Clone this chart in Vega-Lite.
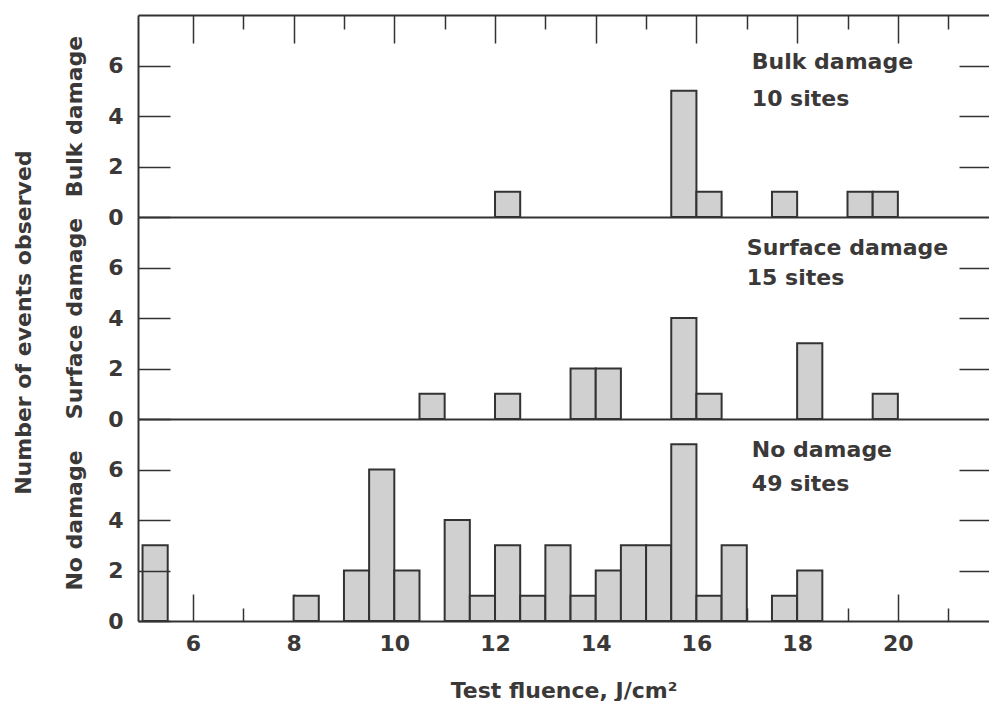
{
  "$schema": "https://vega.github.io/schema/vega-lite/v6.json",
  "padding": {"left": 12, "top": 14, "right": 0, "bottom": 0},
  "background": "white",
  "data": {"values": [
    {"panel": "Bulk", "lo": 12, "hi": 12.5, "count": 1},
    {"panel": "Bulk", "lo": 15.5, "hi": 16, "count": 5},
    {"panel": "Bulk", "lo": 16, "hi": 16.5, "count": 1},
    {"panel": "Bulk", "lo": 17.5, "hi": 18, "count": 1},
    {"panel": "Bulk", "lo": 19, "hi": 19.5, "count": 1},
    {"panel": "Bulk", "lo": 19.5, "hi": 20, "count": 1},
    {"panel": "Surface", "lo": 10.5, "hi": 11, "count": 1},
    {"panel": "Surface", "lo": 12, "hi": 12.5, "count": 1},
    {"panel": "Surface", "lo": 13.5, "hi": 14, "count": 2},
    {"panel": "Surface", "lo": 14, "hi": 14.5, "count": 2},
    {"panel": "Surface", "lo": 15.5, "hi": 16, "count": 4},
    {"panel": "Surface", "lo": 16, "hi": 16.5, "count": 1},
    {"panel": "Surface", "lo": 18, "hi": 18.5, "count": 3},
    {"panel": "Surface", "lo": 19.5, "hi": 20, "count": 1},
    {"panel": "None", "lo": 5, "hi": 5.5, "count": 3},
    {"panel": "None", "lo": 8, "hi": 8.5, "count": 1},
    {"panel": "None", "lo": 9, "hi": 9.5, "count": 2},
    {"panel": "None", "lo": 9.5, "hi": 10, "count": 6},
    {"panel": "None", "lo": 10, "hi": 10.5, "count": 2},
    {"panel": "None", "lo": 11, "hi": 11.5, "count": 4},
    {"panel": "None", "lo": 11.5, "hi": 12, "count": 1},
    {"panel": "None", "lo": 12, "hi": 12.5, "count": 3},
    {"panel": "None", "lo": 12.5, "hi": 13, "count": 1},
    {"panel": "None", "lo": 13, "hi": 13.5, "count": 3},
    {"panel": "None", "lo": 13.5, "hi": 14, "count": 1},
    {"panel": "None", "lo": 14, "hi": 14.5, "count": 2},
    {"panel": "None", "lo": 14.5, "hi": 15, "count": 3},
    {"panel": "None", "lo": 15, "hi": 15.5, "count": 3},
    {"panel": "None", "lo": 15.5, "hi": 16, "count": 7},
    {"panel": "None", "lo": 16, "hi": 16.5, "count": 1},
    {"panel": "None", "lo": 16.5, "hi": 17, "count": 3},
    {"panel": "None", "lo": 17.5, "hi": 18, "count": 1},
    {"panel": "None", "lo": 18, "hi": 18.5, "count": 2}
  ]},
  "title": {"text": "Number of events observed", "orient": "left", "anchor": "middle", "font": "DejaVu Sans", "fontSize": 22, "fontWeight": "bold", "color": "#3b3838", "offset": 28, "dx": 35},
  "spacing": 0,
  "bounds": "flush",
  "vconcat": [
    {
      "width": 851, "height": 202,
      "layer": [
        {
          "transform": [{"filter": "datum.panel === 'Bulk'"}],
          "mark": {"type": "bar", "fill": "#d0d0d0", "stroke": "#333333", "strokeWidth": 2},
          "encoding": {
            "x": {"field": "lo", "type": "quantitative", "scale": {"domain": [4.91, 21.81], "nice": false, "zero": false},
                  "axis": {"orient": "bottom", "ticks": false, "labels": false, "domain": true, "title": null}},
            "x2": {"field": "hi"},
            "y": {"field": "count", "type": "quantitative", "scale": {"domain": [0, 8], "nice": false},
                  "axis": {"orient": "left", "values": [0, 2, 4, 6], "tickSize": -32, "labelPadding": 47, "title": "Bulk damage", "titlePadding": 21, "zindex": 1}},
            "y2": {"datum": 0}
          }
        },
        {
          "data": {"values": [{}]},
          "mark": {"type": "text", "align": "left", "baseline": "middle", "font": "DejaVu Sans", "fontSize": 22, "fontWeight": "bold", "color": "#3b3838", "lineHeight": 37},
          "encoding": {
            "x": {"datum": 17.1, "type": "quantitative",
                  "axis": {"orient": "top", "values": [6,7,8,9,10,11,12,13,14,15,16,17,18,19,20,21], "tickSize": {"condition": {"test": "datum.value % 2 === 0", "value": -28}, "value": -14}, "labels": false, "domain": true, "title": null}},
            "y": {"datum": 6.14, "type": "quantitative",
                  "axis": {"orient": "right", "values": [2, 4, 6], "tickSize": -30, "labels": false, "domain": false, "title": null}},
            "text": {"value": ["Bulk damage", "10 sites"]}
          }
        }
      ],
      "resolve": {"axis": {"x": "independent", "y": "independent"}}
    },
    {
      "width": 851, "height": 202,
      "layer": [
        {
          "transform": [{"filter": "datum.panel === 'Surface'"}],
          "mark": {"type": "bar", "fill": "#d0d0d0", "stroke": "#333333", "strokeWidth": 2},
          "encoding": {
            "x": {"field": "lo", "type": "quantitative", "scale": {"domain": [4.91, 21.81], "nice": false, "zero": false},
                  "axis": {"orient": "bottom", "ticks": false, "labels": false, "domain": true, "title": null}},
            "x2": {"field": "hi"},
            "y": {"field": "count", "type": "quantitative", "scale": {"domain": [0, 8], "nice": false},
                  "axis": {"orient": "left", "values": [0, 2, 4, 6], "tickSize": -32, "labelPadding": 47, "title": "Surface damage", "titlePadding": 21, "zindex": 1}},
            "y2": {"datum": 0}
          }
        },
        {
          "data": {"values": [{}]},
          "mark": {"type": "text", "align": "left", "baseline": "middle", "font": "DejaVu Sans", "fontSize": 22, "fontWeight": "bold", "color": "#3b3838", "lineHeight": 30},
          "encoding": {
            "x": {"datum": 17.0, "type": "quantitative", "axis": null},
            "y": {"datum": 6.77, "type": "quantitative",
                  "axis": {"orient": "right", "values": [2, 4, 6], "tickSize": -30, "labels": false, "domain": false, "title": null}},
            "text": {"value": ["Surface damage", "15 sites"]}
          }
        }
      ],
      "resolve": {"axis": {"x": "independent", "y": "independent"}}
    },
    {
      "width": 851, "height": 202,
      "layer": [
        {
          "transform": [{"filter": "datum.panel === 'None'"}],
          "mark": {"type": "bar", "fill": "#d0d0d0", "stroke": "#333333", "strokeWidth": 2},
          "encoding": {
            "x": {"field": "lo", "type": "quantitative", "scale": {"domain": [4.91, 21.81], "nice": false, "zero": false},
                  "axis": {"orient": "bottom", "values": [6,7,8,9,10,11,12,13,14,15,16,17,18,19,20,21], "tickSize": {"condition": {"test": "datum.value % 2 === 0", "value": -27}, "value": -13}, "labelExpr": "datum.value % 2 === 0 ? datum.label : ''", "labelPadding": 39, "title": "Test fluence, J/cm²", "titlePadding": 26}},
            "x2": {"field": "hi"},
            "y": {"field": "count", "type": "quantitative", "scale": {"domain": [0, 8], "nice": false},
                  "axis": {"orient": "left", "values": [0, 2, 4, 6], "tickSize": -32, "labelPadding": 47, "title": "No damage", "titlePadding": 21, "zindex": 1}},
            "y2": {"datum": 0}
          }
        },
        {
          "data": {"values": [{}]},
          "mark": {"type": "text", "align": "left", "baseline": "middle", "font": "DejaVu Sans", "fontSize": 22, "fontWeight": "bold", "color": "#3b3838", "lineHeight": 34},
          "encoding": {
            "x": {"datum": 17.1, "type": "quantitative", "axis": null},
            "y": {"datum": 6.77, "type": "quantitative",
                  "axis": {"orient": "right", "values": [2, 4, 6], "tickSize": -30, "labels": false, "domain": false, "title": null}},
            "text": {"value": ["No damage", "49 sites"]}
          }
        }
      ],
      "resolve": {"axis": {"x": "independent", "y": "independent"}}
    }
  ],
  "config": {
    "view": {"stroke": null},
    "font": "DejaVu Sans",
    "axis": {
      "grid": false,
      "labelFont": "DejaVu Sans", "labelFontSize": 22, "labelFontWeight": "bold", "labelColor": "#3b3838",
      "titleFont": "DejaVu Sans", "titleFontSize": 22, "titleFontWeight": "bold", "titleColor": "#3b3838",
      "domainColor": "#333333", "domainWidth": 2, "tickColor": "#333333", "tickWidth": 1.5,
      "labelAngle": 0
    }
  }
}
